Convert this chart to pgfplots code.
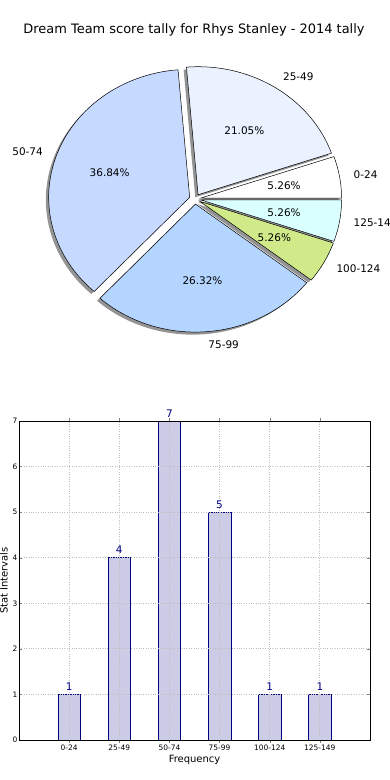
\documentclass[border=0pt]{standalone}
\usepackage{fontspec}
\setmainfont{DejaVu Sans}
\usepackage{pgfplots}
\pgfplotsset{compat=1.18}
\definecolor{p0}{HTML}{FFFFFF}
\definecolor{p1}{HTML}{EAF1FF}
\definecolor{p2}{HTML}{C6D9FF}
\definecolor{p3}{HTML}{B4D5FF}
\definecolor{p4}{HTML}{D0EA8A}
\definecolor{p5}{HTML}{DAFFFF}
\definecolor{barc}{HTML}{CCCCE6}
\definecolor{navyc}{HTML}{000080}
\tikzset{pl/.style={font=\fontsize{10.5}{12}\selectfont, inner sep=0pt}}
\begin{document}
\begin{tikzpicture}
\useasboundingbox (0,0) rectangle (390bp,780bp);
\node[font=\fontsize{13}{15}\selectfont] at (194bp,750bp) {Dream Team score tally for Rhys Stanley - 2014 tally};
% ---------- pie ----------
\begin{axis}[at={(195bp,581bp)}, anchor=center, scale only axis,
  width=310.2bp, height=281.6bp, xmin=-1.1, xmax=1.1, ymin=-1.1, ymax=1.1,
  hide axis, clip=false]
% shadows
\foreach \v [remember=\cb as \ca (initially 0)] in {1,4,7,5,1,1}{
  \pgfmathsetmacro\cb{\ca+\v}
  \pgfmathsetmacro\sa{360*\ca/19}
  \pgfmathsetmacro\ea{360*\cb/19}
  \pgfmathsetmacro\ma{(\sa+\ea)/2}
  \pgfmathsetmacro\ox{0.04*cos(\ma)-0.02}
  \pgfmathsetmacro\oy{0.04*sin(\ma)-0.02}
  \edef\tmp{\noexpand\fill[black!42] (\ox,\oy) -- plot[domain=\sa:\ea,samples=60,variable=\noexpand\x] ({\ox+cos(\noexpand\x)},{\oy+sin(\noexpand\x)}) -- cycle;}
  \tmp
}
% wedges and labels
\foreach \v/\col/\lab [remember=\cb as \ca (initially 0)] in {1/p0/0-24,4/p1/25-49,7/p2/50-74,5/p3/75-99,1/p4/100-124,1/p5/125-149}{
  \pgfmathsetmacro\cb{\ca+\v}
  \pgfmathsetmacro\sa{360*\ca/19}
  \pgfmathsetmacro\ea{360*\cb/19}
  \pgfmathsetmacro\ma{(\sa+\ea)/2}
  \pgfmathsetmacro\ox{0.04*cos(\ma)}
  \pgfmathsetmacro\oy{0.04*sin(\ma)}
  \pgfmathsetmacro\lx{\ox+1.1*cos(\ma)}
  \pgfmathsetmacro\ly{\oy+1.1*sin(\ma)}
  \pgfmathsetmacro\px{\ox+0.6*cos(\ma)}
  \pgfmathsetmacro\py{\oy+0.6*sin(\ma)}
  \pgfmathsetmacro\pct{100*\v/19}
  \ifdim\lx pt>0pt \def\anc{west}\else\def\anc{east}\fi
  \edef\tmp{\noexpand\filldraw[fill=\col, draw=black, line width=0.5bp] (\ox,\oy) -- plot[domain=\sa:\ea,samples=60,variable=\noexpand\x] ({\ox+cos(\noexpand\x)},{\oy+sin(\noexpand\x)}) -- cycle;
    \noexpand\node[pl, anchor=\anc] at (\lx,\ly) {\lab};
    \noexpand\node[pl] at (\px,\py) {\noexpand\pgfmathprintnumber[fixed, fixed zerofill, precision=2, assume math mode=true]{\pct}\%};}
  \tmp
}
\end{axis}
% ---------- bars ----------
\begin{axis}[at={(19bp,40bp)}, anchor=south west, scale only axis,
  width=351bp, height=319bp, xmin=-1, xmax=6, ymin=0, ymax=7,
  xtick={0,...,5}, xticklabels={0-24,25-49,50-74,75-99,100-124,125-149},
  ytick={0,...,7},
  /pgf/number format/assume math mode=true,
  tick pos=both, tick align=inside, major tick length=3bp,
  grid=major, major grid style={dotted, gray!50, line width=0.8bp},
  axis on top, axis line style={line width=0.8bp},
  ticklabel style={font=\fontsize{7.5}{9}\selectfont},
  xticklabel style={inner sep=1.5bp},
  yticklabel style={inner sep=1.5bp},
  xlabel={Frequency}, ylabel={Stat Intervals},
  label style={font=\fontsize{10.5}{12}\selectfont},
  every axis x label/.style={at={(axis description cs:0.5,-0.0627)}, anchor=center},
  every axis y label/.style={at={(axis description cs:-0.043,0.5)}, rotate=90, anchor=center},
  ybar]
\addplot[ybar, bar width=0.45, fill=barc, draw=navyc, line width=0.6bp,
  nodes near coords, nodes near coords style={text=navyc, font=\fontsize{10.5}{12}\selectfont, inner sep=3.5bp}]
  coordinates {(0,1) (1,4) (2,7) (3,5) (4,1) (5,1)};
\end{axis}
\end{tikzpicture}
\end{document}
